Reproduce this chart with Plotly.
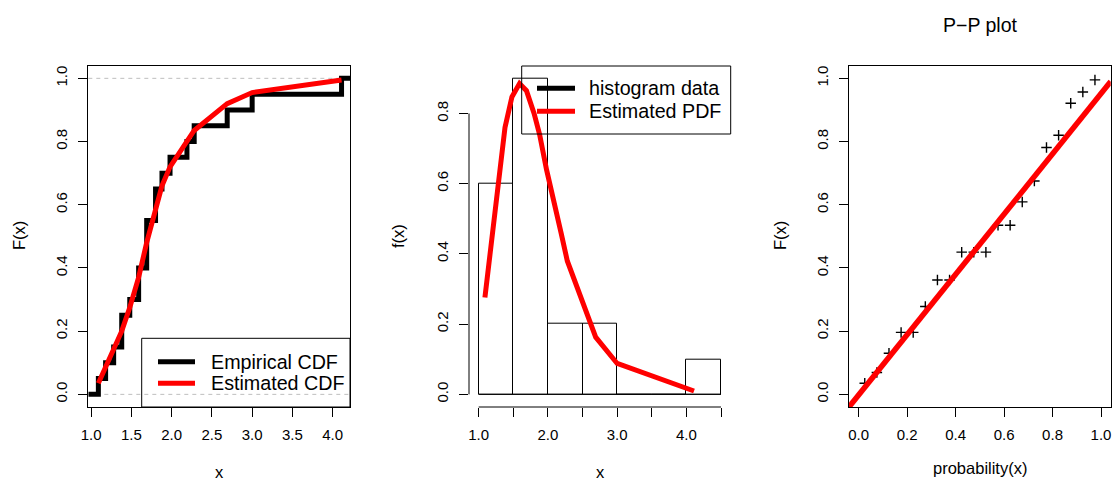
import plotly.graph_objects as go

# ---- sample (sorted distinct values) and fitted-distribution values ----
sample_x = [1.09, 1.18, 1.28, 1.38, 1.48, 1.59, 1.69, 1.80, 1.88, 1.98, 2.19, 2.28, 2.69, 3.00, 4.11]
ecdf_y = [0.05, 0.10, 0.15, 0.25, 0.30, 0.40, 0.55, 0.65, 0.70, 0.75, 0.80, 0.85, 0.90, 0.95, 1.00]
est_cdf = [0.035, 0.085, 0.145, 0.20, 0.275, 0.37, 0.48, 0.59, 0.66, 0.72, 0.80, 0.835, 0.92, 0.955, 0.995]
est_pdf = [0.276, 0.42, 0.59, 0.76, 0.847, 0.885, 0.865, 0.80, 0.74, 0.64, 0.46, 0.38, 0.163, 0.088, 0.0095]

# ---- histogram ----
hist_breaks = [1.0, 1.5, 2.0, 2.5, 3.0, 3.5, 4.0, 4.5]
hist_density = [0.6, 0.9, 0.2, 0.2, 0.0, 0.0, 0.1]

# ---- P-P plot ----
pp_prob = [0.025, 0.075, 0.125, 0.175, 0.225, 0.275, 0.325, 0.375, 0.425, 0.475,
           0.525, 0.575, 0.625, 0.675, 0.725, 0.775, 0.825, 0.875, 0.925, 0.975]
pp_F = [0.035, 0.069, 0.130, 0.196, 0.196, 0.278, 0.362, 0.362, 0.450, 0.450,
        0.450, 0.535, 0.535, 0.609, 0.675, 0.781, 0.820, 0.921, 0.957, 0.995]
pp_line_x = [-0.04, 1.04]
pp_line_y = [-0.04, 0.99]

# ---- axis ticks ----
cdf_xticks = [1.0, 1.5, 2.0, 2.5, 3.0, 3.5, 4.0]
pdf_xticks = [1.0, 1.5, 2.0, 2.5, 3.0, 3.5, 4.0, 4.5]
pdf_xlabels = ["1.0", "", "2.0", "", "3.0", "", "4.0", ""]
unit_ticks = [0.0, 0.2, 0.4, 0.6, 0.8, 1.0]
pdf_yticks = [0.0, 0.2, 0.4, 0.6, 0.8]

W, H = 1115, 482
FONT = "Liberation Sans, Arial, Helvetica, sans-serif"
RED = "#FF0000"


def px(x):
    return x / W


def py(y):
    return 1 - y / H


Y_DOM = [py(407), py(65.7)]
CDF_XRANGE = [0.965, 4.215]

fig = go.Figure()

# Left: empirical vs estimated CDF
fig.add_trace(go.Scatter(
    x=[CDF_XRANGE[0]] + sample_x + [CDF_XRANGE[1]],
    y=[0.0] + ecdf_y + [ecdf_y[-1]],
    mode="lines", line=dict(color="black", width=5, shape="hv"),
    xaxis="x", yaxis="y", hoverinfo="skip"))
fig.add_trace(go.Scatter(
    x=sample_x, y=est_cdf, mode="lines", line=dict(color=RED, width=5),
    xaxis="x", yaxis="y", hoverinfo="skip"))

# Middle: histogram with estimated density
mids = [(a + b) / 2 for a, b in zip(hist_breaks[:-1], hist_breaks[1:])]
widths = [b - a for a, b in zip(hist_breaks[:-1], hist_breaks[1:])]
fig.add_trace(go.Bar(
    x=mids, y=hist_density, width=widths,
    marker=dict(color="rgba(255,255,255,0)", line=dict(color="black", width=1)),
    xaxis="x2", yaxis="y2", hoverinfo="skip"))
fig.add_trace(go.Scatter(
    x=sample_x, y=est_pdf, mode="lines", line=dict(color=RED, width=5),
    xaxis="x2", yaxis="y2", hoverinfo="skip"))

# Right: P-P plot
fig.add_trace(go.Scatter(
    x=pp_prob, y=pp_F, mode="markers",
    marker=dict(symbol="cross-thin", size=7.5, line=dict(color="black", width=1.4)),
    xaxis="x3", yaxis="y3", hoverinfo="skip"))
fig.add_trace(go.Scatter(
    x=pp_line_x, y=pp_line_y, mode="lines", line=dict(color=RED, width=5.5),
    xaxis="x3", yaxis="y3", hoverinfo="skip"))

axis_common = dict(
    ticks="outside", ticklen=9, tickwidth=1, tickcolor="black",
    showgrid=False, zeroline=False, automargin=False, ticklabelstandoff=5,
    tickfont=dict(family=FONT, size=15, color="black"),
)
box = dict(showline=True, mirror=True, linecolor="black", linewidth=1)

fig.update_layout(
    width=W, height=H,
    margin=dict(l=0, r=0, t=0, b=0, autoexpand=False),
    paper_bgcolor="white", plot_bgcolor="white",
    showlegend=False, bargap=0,
    xaxis=dict(domain=[px(88.3), px(350)], range=CDF_XRANGE, anchor="y",
               tickvals=cdf_xticks, ticktext=[f"{v:.1f}" for v in cdf_xticks],
               **axis_common, **box),
    yaxis=dict(domain=Y_DOM, range=[-0.04, 1.04], anchor="x",
               tickvals=unit_ticks, ticktext=[f"{v:.1f}" for v in unit_ticks],
               tickangle=-90, **axis_common, **box),
    xaxis2=dict(domain=[px(469), px(730.7)], range=[0.86, 4.64], anchor="y2",
                tickvals=pdf_xticks, ticktext=pdf_xlabels, **axis_common),
    yaxis2=dict(domain=Y_DOM, range=[-0.036, 0.936], anchor="x2",
                tickvals=pdf_yticks, ticktext=[f"{v:.1f}" for v in pdf_yticks],
                tickangle=-90, **axis_common),
    xaxis3=dict(domain=[px(849), px(1110.7)], range=[-0.04, 1.04], anchor="y3",
                tickvals=unit_ticks, ticktext=[f"{v:.1f}" for v in unit_ticks],
                **axis_common, **box),
    yaxis3=dict(domain=Y_DOM, range=[-0.04, 1.04], anchor="x3",
                tickvals=unit_ticks, ticktext=[f"{v:.1f}" for v in unit_ticks],
                tickangle=-90, **axis_common, **box),
)

shapes = []
# reference levels 0 and 1 on the CDF panel
for lvl in (0.0, 1.0):
    shapes.append(dict(type="line", xref="x domain", x0=0, x1=1, yref="y", y0=lvl, y1=lvl,
                       line=dict(color="#BEBEBE", width=1, dash="4px,4px"), layer="below"))
# open-style axes for the histogram panel
shapes.append(dict(type="line", xref="x2", x0=pdf_xticks[0], x1=pdf_xticks[-1],
                   yref="y2 domain", y0=0, y1=0, line=dict(color="black", width=1)))
shapes.append(dict(type="line", xref="x2 domain", x0=0, x1=0,
                   yref="y2", y0=pdf_yticks[0], y1=pdf_yticks[-1], line=dict(color="black", width=1)))
# histogram baseline (covers empty bins)
shapes.append(dict(type="line", xref="x2", x0=hist_breaks[0], x1=hist_breaks[-1],
                   yref="y2", y0=0, y1=0, line=dict(color="black", width=1)))

# legend boxes and key lines
def legend(x0, x1, y0, y1, lx0, lx1, rows):
    shapes.append(dict(type="rect", xref="paper", yref="paper",
                       x0=px(x0), x1=px(x1), y0=py(y1), y1=py(y0),
                       line=dict(color="black", width=1), fillcolor="rgba(0,0,0,0)"))
    for ry, color in rows:
        shapes.append(dict(type="line", xref="paper", yref="paper",
                           x0=px(lx0), x1=px(lx1), y0=py(ry), y1=py(ry),
                           line=dict(color=color, width=5)))


legend(141.7, 350, 338.3, 407, 158, 195, [(361.7, "black"), (383.3, RED)])
legend(521.7, 730.7, 66, 134, 537, 575, [(88.3, "black"), (111.3, RED)])
fig.update_layout(shapes=shapes)

annotations = []


def text(s, x, y, size, angle=0, xanchor="center"):
    annotations.append(dict(text=s, x=px(x), y=py(y), xref="paper", yref="paper",
                            showarrow=False, textangle=angle, xanchor=xanchor, yanchor="middle",
                            font=dict(family=FONT, size=size, color="black")))


text("Empirical CDF", 208.5, 361.7, 19.7, xanchor="left")
text("Estimated CDF", 208.5, 383.3, 19.7, xanchor="left")
text("histogram data", 587, 88.3, 19.7, xanchor="left")
text("Estimated PDF", 587, 111.3, 19.7, xanchor="left")
text("P\u2212P plot", 980, 25, 19.5)
text("F(x)", 19, 236, 16.5, angle=-90)
text("f(x)", 398, 236, 16.5, angle=-90)
text("F(x)", 780, 236, 16.5, angle=-90)
text("x", 219, 471.5, 16.5)
text("x", 600, 471.5, 16.5)
text("probability(x)", 980, 468, 16.5)
fig.update_layout(annotations=annotations)

fig.write_html("out.html")
